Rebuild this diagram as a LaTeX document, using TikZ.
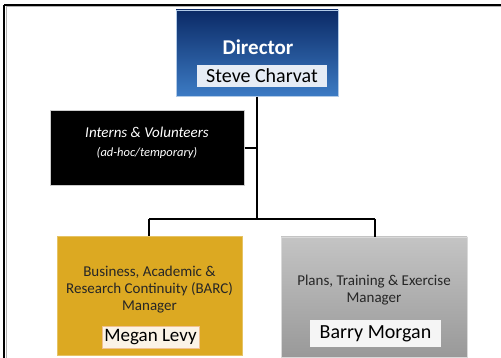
\documentclass[tikz,border=0pt]{standalone}
\usepackage{fontspec}
\setmainfont{Carlito}
\definecolor{navytop}{HTML}{0B2A66}
\definecolor{navybot}{HTML}{3C7BC4}
\definecolor{gold}{HTML}{DCA922}
\definecolor{greytop}{HTML}{C4C4C4}
\definecolor{greybot}{HTML}{999999}
\definecolor{steveface}{HTML}{E6ECF5}
\definecolor{meganface}{HTML}{FBF3E6}
\definecolor{meganedge}{HTML}{F0C090}
\begin{document}
\begin{tikzpicture}[x=1pt,y=-1pt,
  conn/.style={line width=1.6pt,black},
  frame/.style={line width=1.6pt,black},
  bigname/.style={inner sep=0pt,font=\fontsize{20}{22}\selectfont},
  bodytext/.style={align=center,font=\fontsize{15}{17}\selectfont,text=black!85}]
\useasboundingbox (0,0) rectangle (501,358);
% frame
\draw[line width=1pt,gray!60] (6,7) -- (501,7);
\draw[line width=1pt,gray!60] (6,7) -- (6,358);
\draw[frame] (4,5) -- (501,5);
\draw[frame] (4,5) -- (4,358);
% hub coordinates
\coordinate (hub) at (257,219);
\coordinate (hl) at (149,219);
\coordinate (hr) at (375,219);
% Director
\shade[top color=navytop,bottom color=navybot] (176,10) rectangle (338,96);
\node[draw=navybot!40!white,line width=0.6pt,minimum width=162pt,minimum height=86pt,inner sep=0pt,anchor=north west] (dir) at (176,10) {};
\node[text=white,font=\bfseries\fontsize{21}{23}\selectfont] (dirt) at (258,47) {Director};
\node[fill=steveface,minimum width=130pt,minimum height=22pt,bigname] (steve) at (262,76) {Steve Charvat};
% Interns
\node[fill=black,draw=gray!40,line width=0.6pt,minimum width=194pt,minimum height=75pt,inner sep=0pt,anchor=north west] (int) at (50,110) {};
\node[text=white,font=\itshape\fontsize{15}{17}\selectfont] (intt) at (147,132) {Interns \& Volunteers};
\node[text=white,font=\itshape\fontsize{12.5}{14}\selectfont] (intt2) at (147,153) {(ad-hoc/temporary)};
% BARC
\node[fill=gold,draw=gold!70!white,line width=0.8pt,minimum width=185pt,minimum height=119pt,inner sep=0pt,anchor=north west] (barc) at (57,236) {};
\node[bodytext] (barct) at (149.5,290) {Business, Academic \&\\Research Continuity (BARC)\\Manager};
\node[fill=meganface,draw=meganedge,line width=0.6pt,minimum width=97pt,minimum height=22pt,inner sep=0pt,font=\fontsize{19}{21}\selectfont] (megan) at (150.5,337) {Megan Levy};
% Plans
\shade[top color=greytop,bottom color=greybot] (281,237) rectangle (467,357);
\node[draw=gray!30,line width=0.8pt,minimum width=186pt,minimum height=120pt,inner sep=0pt,anchor=north west] (plans) at (281,237) {};
\node[bodytext] (planst) at (374,290) {Plans, Training \& Exercise\\Manager};
\node[fill=white!96!black,minimum width=131pt,minimum height=27pt,bigname] (barry) at (375.5,333.5) {Barry Morgan};
% connectors
\draw[conn] (dir.south -| hub) -- (hub);
\draw[conn] (int.east) -- (int.east -| hub);
\draw[conn] (hl) -- (hr);
\draw[conn] (hl) -- (hl |- barc.north);
\draw[conn] (hr) -- (hr |- plans.north);
\end{tikzpicture}
\end{document}
